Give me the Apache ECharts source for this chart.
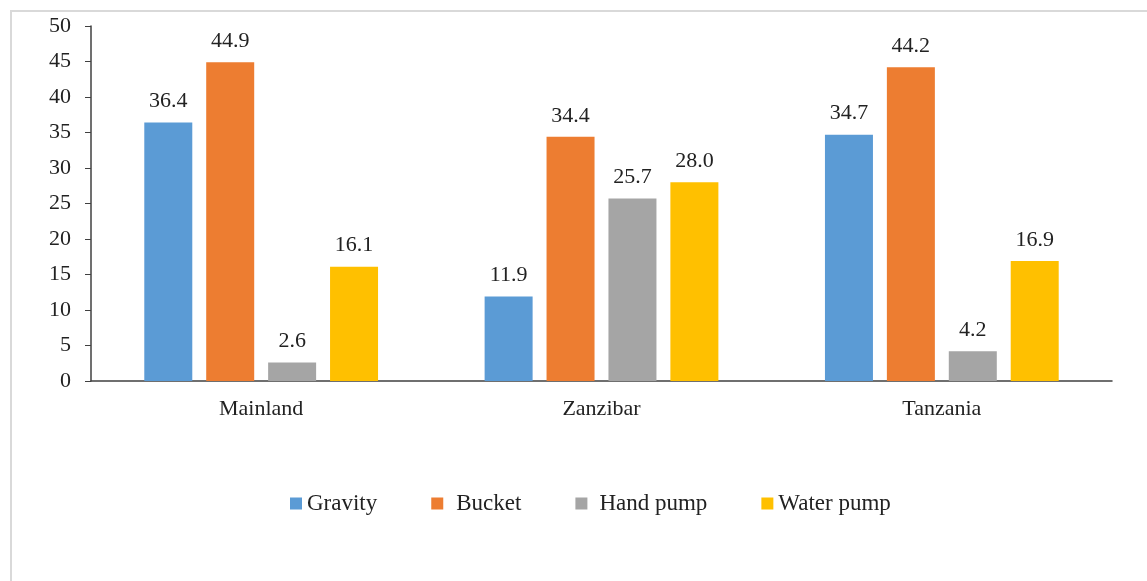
<html>
<head>
<meta charset="utf-8">
<script src="https://cdn.jsdelivr.net/npm/echarts@6/dist/echarts.min.js"></script>
<style>
	body { margin: 0; background: #fff; }
	#chart-main { width: 1147px; height: 581px; }
</style>
</head>
<body>
<div id="chart-main"></div>

<script type="text/javascript">
	// 数据
	var regions = ['Mainland', 'Zanzibar', 'Tanzania'];
	var gravity = [36.4, 11.9, 34.7];
	var bucket = [44.9, 34.4, 44.2];
	var handPump = [2.6, 25.7, 4.2];
	var waterPump = [16.1, 28.0, 16.9];
	var yTicks = [0, 50, 5]; // min, max, interval

	var font = 'Liberation Serif';

	function bar(name, data, color) {
		return {
			name: name,
			type: 'bar',
			data: data,
			barWidth: 48,
			barGap: '29%',
			itemStyle: { color: color },
			label: {
				show: true,
				position: 'top',
				distance: 10,
				color: '#222',
				fontFamily: font,
				fontSize: 22,
				formatter: function (p) { return p.value.toFixed(1); }
			}
		};
	}

	var myChart = echarts.init(document.getElementById('chart-main'));
	var option = {
		animation: false,
		backgroundColor: '#fff',
		graphic: [{
			type: 'rect',
			shape: { x: 11, y: 11, width: 1200, height: 700 },
			style: { fill: 'none', stroke: '#d9d9d9', lineWidth: 2 },
			silent: true
		}],
		grid: { left: 91, right: 35, top: 26, bottom: 200 },
		legend: {
			data: [
				{ name: 'Gravity' },
				{ name: 'Bucket', textStyle: { padding: [0, 0, 0, 8] } },
				{ name: 'Hand pump', textStyle: { padding: [0, 0, 0, 7] } },
				{ name: 'Water pump' }
			],
			left: 290,
			top: 492,
			padding: 0,
			itemWidth: 12,
			itemHeight: 12,
			itemGap: 54,
			icon: 'rect',
			textStyle: { fontFamily: font, fontSize: 23, color: '#222' }
		},
		xAxis: {
			type: 'category',
			data: regions,
			axisLine: { lineStyle: { color: '#404040', width: 1.5 } },
			axisTick: { show: false },
			axisLabel: { fontFamily: font, fontSize: 22, color: '#222', margin: 17 }
		},
		yAxis: {
			type: 'value',
			min: yTicks[0],
			max: yTicks[1],
			interval: yTicks[2],
			axisLine: { show: true, lineStyle: { color: '#404040', width: 1.5 } },
			axisTick: { show: true, length: 6, lineStyle: { color: '#404040' } },
			splitLine: { show: false },
			axisLabel: { fontFamily: font, fontSize: 22, color: '#222', margin: 20 }
		},
		series: [
			bar('Gravity', gravity, '#5B9BD5'),
			bar('Bucket', bucket, '#ED7D31'),
			bar('Hand pump', handPump, '#A5A5A5'),
			bar('Water pump', waterPump, '#FFC000')
		]
	};
	myChart.setOption(option);
</script>
</body>
</html>
